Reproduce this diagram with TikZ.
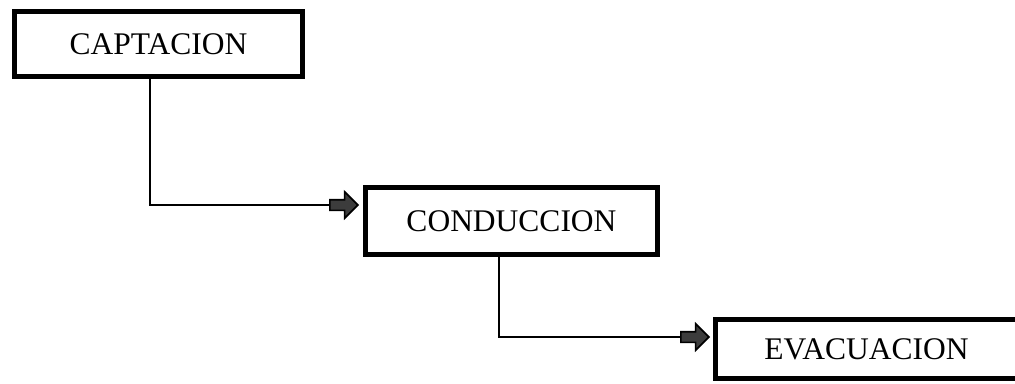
\documentclass[tikz,border=0pt]{standalone}
\usepackage{fontspec}
\setmainfont{Liberation Serif}
\usetikzlibrary{shapes.arrows,patterns}
\definecolor{flowInk}{HTML}{000000}
\definecolor{flowFill}{HTML}{3C3C3C}
\tikzset{
  flow box/.style={draw=flowInk, line width=5pt, rectangle, inner sep=0pt, font=\fontsize{31.5}{36}\selectfont},
  flow link/.style={draw=flowInk, line width=2.2pt},
  flow arrow/.style={single arrow, draw=flowInk, fill=flowFill, line width=1.6pt, inner xsep=0pt, inner ysep=4.5pt,
    minimum height=28pt, minimum width=26pt, single arrow head extend=8pt, anchor=tip},
}

\begin{document}
\begin{tikzpicture}[x=1pt,y=1pt]
  \useasboundingbox (0,0) rectangle (1015,-383);
  \clip (0,0) rectangle (1015,-383);
  \node[flow box, minimum width=288pt, minimum height=65pt] (cap) at (158.5,-44) {CAPTACION};
  \node[flow box, minimum width=292pt, minimum height=67pt] (con) at (511.5,-221) {CONDUCCION};
  \node[flow box, minimum width=302pt, minimum height=59pt] (eva) at (866.5,-349) {EVACUACION};
  % block arrows sitting against the next box
  \node[flow arrow] (a1) at ([xshift=-4pt,yshift=16pt]con.west) {};
  \node[flow arrow] (a2) at ([xshift=-3pt,yshift=12pt]eva.west) {};
  \draw[flow link] ([xshift=-8.5pt]cap.south) |- (a1.tail);
  \draw[flow link] ([xshift=-12.5pt]con.south) |- (a2.tail);
\end{tikzpicture}
\end{document}
